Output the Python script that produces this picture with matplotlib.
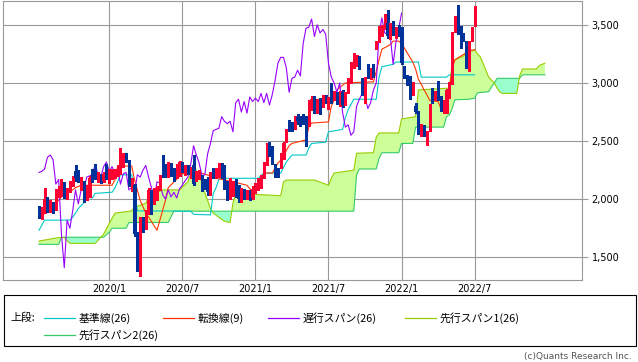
import numpy as np
import matplotlib
matplotlib.use("Agg")
import matplotlib.pyplot as plt
from matplotlib.lines import Line2D
from matplotlib.patches import Rectangle

# weekly candles, index 0 = first week of 2019/7
opens = [1920, 1850, 1890, 2000, 1910, 1960, 1920, 2060, 2040, 2130,
         2030, 2080, 2120, 2240, 2230, 2100, 2140, 2000, 2040, 2230,
         2260, 2170, 2200, 2160, 2290, 2170, 2190, 2200, 2210, 2230,
         2300, 2380, 2330, 2080, 2120, 1700, 1390, 1830, 1760, 1890,
         2050, 1980, 2000, 2090, 2300, 2280, 2200, 2290, 2250, 2200,
         2210, 2300, 2230, 2270, 2200, 2290, 2180, 2190, 2190, 2150,
         2160, 2060, 2240, 2200, 2200, 2280, 2270, 2140, 2010, 2050,
         2150, 2100, 2000, 2070, 2020, 2060, 2010, 2060, 2100, 2120,
         2200, 2300, 2470, 2440, 2280, 2250, 2280, 2360, 2500, 2660,
         2640, 2620, 2710, 2700, 2710, 2700, 2640, 2780, 2850, 2750,
         2850, 2800, 2880, 2790, 2880, 2860, 2900, 2830, 2920, 2830,
         2920, 3010, 3140, 3180, 3210, 3020, 2880, 3140, 3050, 3140,
         3300, 3370, 3420, 3480, 3520, 3400, 3490, 3400, 3470, 3440,
         3130, 3050, 3040, 2920, 2800, 2740, 2560, 2620, 2490, 2600,
         2910, 2880, 2920, 2870, 2770, 2760, 2880, 3000, 3450, 3600,
         3470, 3410, 3340, 3180, 3370, 3500]
highs = [1940, 1930, 2100, 2020, 1990, 1980, 2090, 2110, 2170, 2150,
         2100, 2160, 2200, 2290, 2250, 2190, 2160, 2120, 2200, 2260,
         2300, 2230, 2220, 2230, 2300, 2260, 2260, 2260, 2290, 2440,
         2400, 2400, 2340, 2180, 2130, 1720, 1850, 1850, 1910, 2100,
         2080, 2100, 2110, 2210, 2380, 2300, 2320, 2310, 2270, 2300,
         2330, 2320, 2290, 2290, 2280, 2380, 2240, 2250, 2210, 2170,
         2190, 2230, 2270, 2270, 2310, 2310, 2290, 2160, 2180, 2160,
         2170, 2120, 2100, 2090, 2080, 2080, 2110, 2140, 2180, 2210,
         2320, 2480, 2490, 2460, 2300, 2270, 2400, 2490, 2600, 2680,
         2660, 2720, 2730, 2720, 2730, 2720, 2850, 2890, 2890, 2860,
         2870, 2900, 2900, 2880, 3000, 2930, 2920, 2930, 2940, 2920,
         3040, 3180, 3260, 3240, 3230, 3040, 3050, 3160, 3130, 3160,
         3360, 3490, 3500, 3590, 3630, 3520, 3530, 3480, 3500, 3480,
         3150, 3070, 3060, 3010, 2830, 2760, 2650, 2640, 2590, 2820,
         2960, 2930, 3020, 2890, 2850, 2950, 3010, 3440, 3580, 3670,
         3490, 3430, 3360, 3360, 3480, 3660]
lows = [1840, 1830, 1880, 1890, 1890, 1880, 1910, 2020, 2030, 2010,
        2000, 2060, 2110, 2160, 2150, 2080, 1980, 1990, 2020, 2150,
        2170, 2150, 2140, 2150, 2170, 2140, 2170, 2180, 2200, 2220,
        2280, 2320, 2110, 2070, 1680, 1380, 1340, 1720, 1740, 1870,
        1870, 1960, 1990, 2080, 2190, 2190, 2190, 2200, 2160, 2180,
        2200, 2230, 2210, 2220, 2180, 2120, 2160, 2170, 2070, 2090,
        2040, 2040, 2180, 2180, 2190, 2180, 2090, 1990, 2000, 2030,
        2020, 1980, 1980, 2000, 2000, 1990, 2000, 2050, 2080, 2100,
        2180, 2290, 2370, 2300, 2190, 2190, 2270, 2350, 2490, 2590,
        2590, 2600, 2650, 2630, 2650, 2460, 2630, 2770, 2740, 2740,
        2730, 2790, 2830, 2780, 2830, 2850, 2820, 2800, 2790, 2810,
        2910, 3000, 3130, 3150, 3120, 2900, 2830, 3040, 3030, 3050,
        3290, 3350, 3400, 3460, 3390, 3380, 3410, 3390, 3400, 3160,
        3040, 2980, 2860, 2900, 2740, 2560, 2540, 2540, 2470, 2590,
        2830, 2850, 2850, 2760, 2740, 2740, 2870, 2990, 3440, 3420,
        3300, 3360, 3130, 3100, 3360, 3490]
closes = [1850, 1900, 2000, 1910, 1970, 1900, 2070, 2090, 2150, 2020,
          2080, 2140, 2190, 2180, 2160, 2170, 1990, 2100, 2180, 2160,
          2190, 2200, 2150, 2220, 2190, 2230, 2230, 2240, 2260, 2360,
          2380, 2340, 2130, 2170, 1700, 1410, 1820, 1750, 1900, 2080,
          1960, 2080, 2090, 2190, 2200, 2210, 2300, 2210, 2190, 2280,
          2320, 2240, 2280, 2230, 2260, 2130, 2220, 2230, 2080, 2100,
          2060, 2210, 2190, 2250, 2290, 2190, 2100, 2010, 2150, 2140,
          2040, 2000, 2080, 2020, 2060, 2010, 2090, 2120, 2160, 2190,
          2300, 2460, 2380, 2310, 2200, 2210, 2390, 2480, 2590, 2600,
          2610, 2710, 2670, 2650, 2670, 2580, 2830, 2860, 2750, 2840,
          2740, 2880, 2840, 2870, 2840, 2910, 2830, 2910, 2810, 2900,
          3020, 3170, 3220, 3220, 3130, 2920, 3040, 3050, 3110, 3060,
          3340, 3470, 3480, 3550, 3400, 3500, 3430, 3460, 3420, 3170,
          3050, 3000, 2920, 3000, 2750, 2620, 2640, 2550, 2580, 2800,
          2860, 2910, 2880, 2780, 2830, 2940, 3000, 3430, 3560, 3430,
          3420, 3400, 3160, 3350, 3470, 3600]

# conversion line (9) and base line (26): vertices
tenkan_idx = [0, 2, 4, 7, 8, 12, 13, 15, 26, 27, 28, 33, 34, 35, 36, 38, 39, 42,
              45, 46, 51, 57, 61, 63, 69, 74, 75, 77, 78, 79, 80, 83, 85, 87, 88,
              89, 90, 95, 96, 97, 103, 104, 105, 106, 109, 119, 120, 121, 122, 125,
              126, 128, 129, 131, 133, 134, 135, 136, 137, 138, 139, 142, 143, 145,
              146, 147, 148, 150, 152, 153, 155]
tenkan_val = [1845, 1875, 1930, 1990, 2020, 2080, 2100, 2120, 2120, 2165, 2285, 2285,
              2165, 2080, 1990, 1880, 1845, 1733, 1990, 2100, 2220, 2230, 2200, 2180,
              2150, 2120, 2090, 2060, 2100, 2165, 2225, 2225, 2310, 2360, 2420, 2460,
              2480, 2510, 2620, 2655, 2665, 2800, 2850, 2940, 3000, 3010, 3100, 3200,
              3290, 3330, 3360, 3360, 3340, 3260, 3180, 3120, 3030, 2990, 2940, 2900,
              2850, 2840, 2780, 2760, 2950, 3120, 3200, 3230, 3260, 3280, 3285]
kijun_idx = [0, 2, 11, 12, 13, 14, 16, 17, 19, 20, 26, 27, 28, 29, 33, 34, 35, 54, 55,
             61, 62, 63, 64, 65, 78, 80, 86, 88, 90, 95, 96, 97, 102, 103, 108, 109,
             110, 112, 120, 121, 122, 126, 127, 135, 136, 145, 146, 155]
kijun_val = [1733, 1820, 1820, 1845, 1880, 1920, 1970, 2020, 2010, 2050, 2060, 2095,
             2150, 2210, 2210, 2060, 1900, 1897, 1870, 1865, 2050, 2100, 2170, 2180,
             2180, 2225, 2225, 2320, 2380, 2380, 2440, 2480, 2490, 2580, 2600, 2700,
             2770, 2860, 2860, 3050, 3140, 3160, 3180, 3180, 3050, 3050, 3070, 3070]

# leading spans 1 and 2, shifted 25 weeks ahead
span_idx = [0, 7, 8, 9, 11, 20, 22, 23, 25, 26, 27, 31, 32, 33, 34, 38, 39, 44, 46, 47,
            48, 50, 53, 54, 55, 56, 57, 58, 60, 61, 62, 66, 68, 69, 70, 86, 87, 88, 98,
            103, 104, 105, 112, 113, 114, 119, 120, 121, 122, 128, 129, 133, 134, 135,
            144, 145, 146, 147, 148, 151, 152, 153, 155, 156, 157, 158, 159, 160, 161,
            162, 163, 164, 165, 170, 171, 172, 177, 178, 180]
span1 = [1640, 1670, 1670, 1670, 1620, 1620, 1673, 1700, 1790, 1835, 1880, 1893, 1897,
         1900, 1930, 1965, 2020, 2080, 2080, 2080, 2080, 2080, 2150, 2225, 2300, 2240,
         2230, 2120, 1990, 1920, 1880, 1810, 1800, 1965, 2050, 2030, 2150, 2165, 2165,
         2120, 2180, 2225, 2250, 2395, 2396, 2400, 2535, 2570, 2570, 2570, 2690, 2706,
         2710, 2940, 2953, 2954, 2955, 3170, 3200, 3230, 3260, 3268, 3285, 3250, 3225,
         3170, 3110, 3050, 3025, 3000, 2955, 2920, 2910, 2910, 3060, 3120, 3120, 3150,
         3170]
span2 = [1612, 1612, 1673, 1673, 1673, 1673, 1673, 1673, 1716, 1750, 1750, 1750, 1800,
         1800, 1800, 1800, 1800, 1800, 1800, 1850, 1897, 1897, 1897, 1897, 1897, 1897,
         1897, 1897, 1897, 1897, 1897, 1897, 1897, 1897, 1897, 1897, 1897, 1897, 1897,
         1897, 1897, 1897, 1897, 2210, 2260, 2260, 2260, 2350, 2400, 2400, 2480, 2480,
         2620, 2620, 2620, 2710, 2725, 2780, 2855, 2858, 2859, 2860, 2870, 2915, 2918,
         2920, 2922, 2925, 2965, 3000, 3040, 3040, 3040, 3040, 3040, 3070, 3070, 3070,
         3070]

date_ticks = [25, 51, 77, 103, 129, 155]
date_labels = ["2020/1", "2020/7", "2021/1", "2021/7", "2022/1", "2022/7"]
price_ticks = [1500, 2000, 2500, 3000, 3500]

legend_labels = ["基準線(26)", "転換線(9)", "遅行スパン(26)", "先行スパン1(26)", "先行スパン2(26)"]
C_KIJUN, C_TENKAN, C_CHIKOU = "#00c8c8", "#ff3300", "#9900ff"
C_SPAN1, C_SPAN2 = "#99cc00", "#33cc66"
C_UP, C_DOWN = "#ff0033", "#003399"

W, H = 638, 362
fig = plt.figure(figsize=(W / 100, H / 100), dpi=100, facecolor="white")
ax = fig.add_axes([3 / W, 1 - 280 / H, 579 / W, 279 / H])

o, h, l, c = (np.array(a, dtype=float) for a in (opens, highs, lows, closes))
x = np.arange(len(c))
sx = np.array(span_idx, dtype=float)
s1, s2 = np.array(span1, dtype=float), np.array(span2, dtype=float)

# cloud
ax.fill_between(sx, s1, s2, where=s1 >= s2, interpolate=True, color="#ccff99", lw=0, zorder=1)
ax.fill_between(sx, s1, s2, where=s1 < s2, interpolate=True, color="#99ffcc", lw=0, zorder=1)
ax.plot(sx, s2, color=C_SPAN2, lw=0.8, zorder=2)
ax.plot(sx, s1, color=C_SPAN1, lw=0.8, zorder=2)
ax.plot(kijun_idx, kijun_val, color=C_KIJUN, lw=0.8, zorder=3)
ax.plot(tenkan_idx, tenkan_val, color=C_TENKAN, lw=0.8, zorder=3)
ax.plot(x[:-26], c[26:], color=C_CHIKOU, lw=0.8, zorder=3)

# candles
up = c >= o
cols = np.where(up, C_UP, C_DOWN)
ax.vlines(x, l, h, colors=cols, lw=0.8, zorder=4, antialiased=False)
ax.bar(x, np.maximum(np.abs(c - o), 12), bottom=np.minimum(o, c), width=0.8,
       color=cols, lw=0, zorder=5, antialiased=False)

ax.set_xlim(-12.8, 193.2)
ax.set_ylim(1305, 3705)
ax.set_xticks(date_ticks)
ax.set_xticklabels(date_labels)
ax.set_yticks(price_ticks)
ax.set_yticklabels([f"{v:,}" for v in price_ticks])
ax.yaxis.tick_right()
ax.tick_params(axis="y", length=4, width=0.8, color="#999999", labelsize=7, pad=3)
ax.tick_params(axis="x", length=0, labelsize=7, pad=3)
ax.grid(True, color="#999999", lw=0.8)
ax.set_axisbelow(True)
for sp in ax.spines.values():
    sp.set_color("#999999")
    sp.set_linewidth(0.8)

# legend panel in pixel coordinates
lax = fig.add_axes([0, 0, 1, 1], zorder=-1)
lax.set_xlim(0, W)
lax.set_ylim(H, 0)
lax.axis("off")
lax.add_patch(Rectangle((3.5, 294.5), 632, 51, fill=False, ec="black", lw=0.8))
jp = ["Noto Sans CJK JP", "DejaVu Sans"]
lax.text(10, 318, "上段:", fontsize=7.8, family=jp, va="center")
legend_colors = [C_KIJUN, C_TENKAN, C_CHIKOU, C_SPAN1, C_SPAN2]
legend_pos = [(44, 318), (163, 318), (268, 318), (405, 318), (44, 335)]
for lab, col, (lx, ly) in zip(legend_labels, legend_colors, legend_pos):
    lax.add_line(Line2D([lx, lx + 31], [ly, ly], color=col, lw=0.9))
    lax.text(lx + 35, ly, lab, fontsize=7.8, family=jp, va="center")
lax.text(632, 356, "(c)Quants Research Inc.", fontsize=6.5, color="#555555",
         ha="right", va="center")

fig.savefig("out.png", dpi=100)
